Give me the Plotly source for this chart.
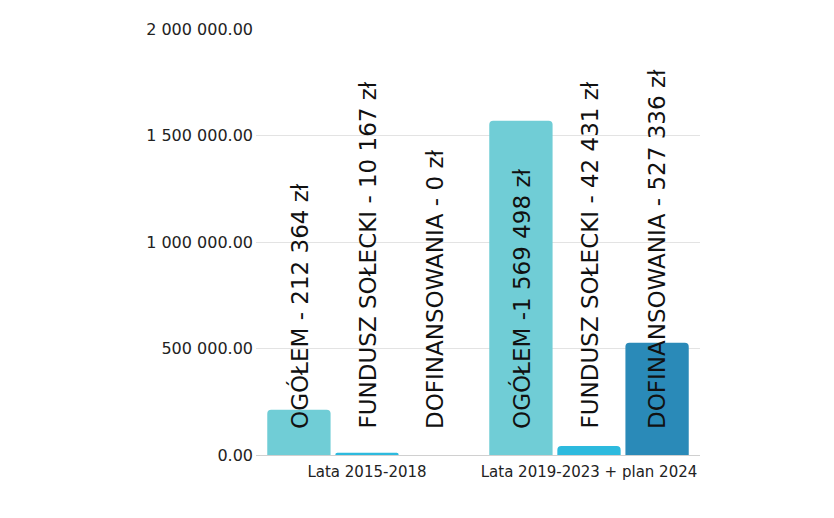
import plotly.graph_objects as go

categories = ["Lata 2015-2018", "Lata 2019-2023 + plan 2024"]
series_names = ["OGÓŁEM", "FUNDUSZ SOŁECKI", "DOFINANSOWANIA"]
ogolem = [212364, 1569498]
fundusz = [10167, 42431]
dofinansowania = [0, 527336]
labels = [
    ["OGÓŁEM - 212 364 zł", "OGÓŁEM -1 569 498 zł"],
    ["FUNDUSZ SOŁECKI - 10 167 zł", "FUNDUSZ SOŁECKI - 42 431 zł"],
    ["DOFINANSOWANIA - 0 zł", "DOFINANSOWANIA - 527 336 zł"],
]
tick_vals = [0, 500000, 1000000, 1500000, 2000000]
tick_text = ["0.00", "500 000.00", "1 000 000.00", "1 500 000.00", "2 000 000.00"]

colors = ["#70CDD6", "#2DBADE", "#2A8AB8"]
values = [ogolem, fundusz, dofinansowania]

BARGAP = 0.08
fig = go.Figure()
for name, vals, col in zip(series_names, values, colors):
    fig.add_trace(go.Bar(name=name, x=list(range(len(categories))), y=vals,
                         marker=dict(color=col, line=dict(width=0)),
                         hoverinfo="skip"))

n = len(series_names)
w = (1 - BARGAP) / n
for i, row in enumerate(labels):
    for j, txt in enumerate(row):
        xpos = j + (i - (n - 1) / 2) * w
        fig.add_annotation(x=xpos, y=0, xref="x", yref="y", text=txt,
                           textangle=-90, showarrow=False,
                           xanchor="center", yanchor="bottom", yshift=24,
                           font=dict(family="DejaVu Sans", size=23, color="#111111"))

fig.update_layout(
    width=834, height=518,
    margin=dict(l=248, r=142, t=19, b=71),
    paper_bgcolor="white", plot_bgcolor="white",
    barmode="group", bargap=BARGAP, bargroupgap=0.07, barcornerradius=4,
    showlegend=False,
    font=dict(family="DejaVu Sans", color="#222222"),
)
fig.update_xaxes(tickvals=list(range(len(categories))), ticktext=categories,
                 range=[-0.5, 1.5], showgrid=False, showline=False,
                 tickfont=dict(size=15, color="#222222"), ticks="", ticklen=0,
                 ticklabelstandoff=6)
fig.update_yaxes(range=[0, 2000000], tickvals=tick_vals, ticktext=tick_text,
                 showgrid=True, gridcolor="#e3e3e3", gridwidth=1,
                 zeroline=True, zerolinecolor="#d0d0d0", zerolinewidth=1,
                 tickfont=dict(size=16, color="#222222"), ticks="", ticklen=0,
                 ticklabelstandoff=2)

fig.write_html("out.html")
